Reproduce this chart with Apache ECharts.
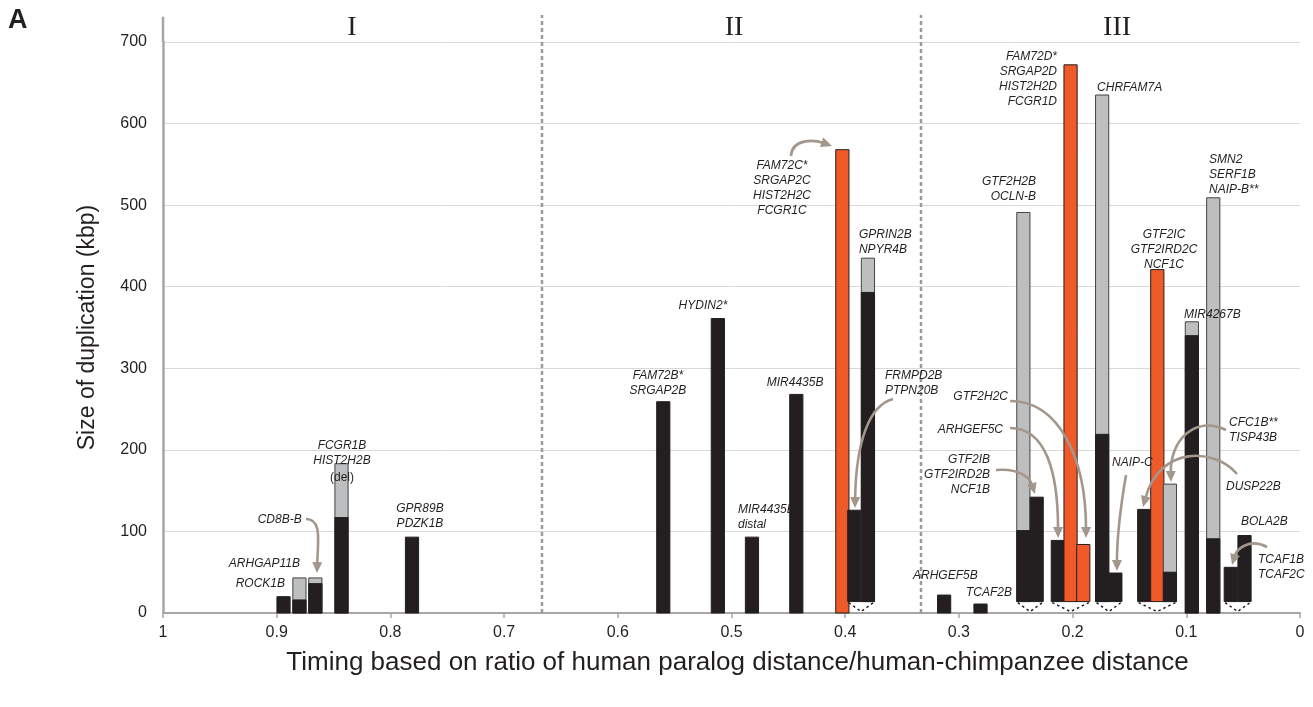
<!DOCTYPE html>
<html><head><meta charset="utf-8">
<script src="https://cdn.jsdelivr.net/npm/echarts@6/dist/echarts.min.js"></script>
<style>html,body{margin:0;padding:0;background:#fff}#chart{width:1313px;height:707px}</style>
</head><body><div id="chart"></div>
<script>
// ---- data ----
const genes = ['ROCK1B','ARHGAP11B','CD8B-B','FCGR1B/HIST2H2B','GPR89B/PDZK1B','FAM72B/SRGAP2B','HYDIN2','MIR4435B distal','MIR4435B','FAM72C/SRGAP2C/HIST2H2C/FCGR1C','FRMPD2B/PTPN20B','GPRIN2B/NPYR4B','ARHGEF5B','TCAF2B','GTF2H2B/OCLN-B','GTF2IB/GTF2IRD2B/NCF1B','ARHGEF5C','FAM72D/SRGAP2D/HIST2H2D/FCGR1D','GTF2H2C','CHRFAM7A','NAIP-C','DUSP22B','GTF2IC/GTF2IRD2C/NCF1C','CFC1B/TISP43B','MIR4267B','SMN2/SERF1B/NAIP-B','TCAF1B/TCAF2C','BOLA2B'];
const timing  = [0.894,0.880,0.866,0.843,0.781,0.560,0.512,0.482,0.443,0.4025,0.392,0.380,0.313,0.281,0.2433,0.2316,0.213,0.2018,0.1906,0.174,0.1624,0.137,0.1255,0.1144,0.0951,0.0763,0.0609,0.0488];
const topKbp  = [20,43,43,183,93,259,361,93,268,568,126,435,22,11,491,142,89,672,84,635,49,127,421,158,357,509,56,95];
const darkKbp = [20,16,36,117,93,259,361,93,268,568,126,393,22,11,101,142,89,672,84,219,49,127,421,50,340,91,56,95];
const baseKbp = [0,0,0,0,0,0,0,0,0,0,14,14,0,0,14,14,14,14,14,14,14,14,14,14,0,0,14,14];
const isOrange = [0,0,0,0,0,0,0,0,0,1,0,0,0,0,0,0,0,1,1,0,0,0,1,0,0,0,0,0];
const groups = [[10,11],[14,15],[16,17,18],[19,20],[21,22,23],[26,27]];
const xTicks = [0,0.1,0.2,0.3,0.4,0.5,0.6,0.7,0.8,0.9,1];
const yTicks = [0,100,200,300,400,500,600,700];
const regionNames = ['I','II','III'];
const regionCenters = [0.8338,0.4978,0.1609];
const regionBounds = [2/3,1/3];

const labelText = ['CD8B-B','ARHGAP11B','ROCK1B','FCGR1B\nHIST2H2B','(del)','GPR89B\nPDZK1B','FAM72B*\nSRGAP2B','HYDIN2*','MIR4435B\ndistal','MIR4435B','FAM72C*\nSRGAP2C\nHIST2H2C\nFCGR1C','GPRIN2B\nNPYR4B','FRMPD2B\nPTPN20B','GTF2H2B\nOCLN-B','FAM72D*\nSRGAP2D\nHIST2H2D\nFCGR1D','CHRFAM7A','GTF2H2C','ARHGEF5C','GTF2IB\nGTF2IRD2B\nNCF1B','ARHGEF5B','TCAF2B','GTF2IC\nGTF2IRD2C\nNCF1C','SMN2\nSERF1B\nNAIP-B**','MIR4267B','CFC1B**\nTISP43B','NAIP-C','DUSP22B','BOLA2B','TCAF1B\nTCAF2C'];
const labelT = [0.878,0.8795,0.8927,0.8426,0.8426,0.774,0.5647,0.5251,0.4943,0.4441,0.4556,0.3879,0.3650,0.2322,0.2137,0.1785,0.2568,0.2612,0.2726,0.3404,0.2938,0.1196,0.0800,0.1020,0.0624,0.1653,0.0651,0.0519,0.0369];
const labelV = [114,61,35.6,204.7,165.5,127.5,290.5,376.4,126.3,282,548,463.4,290.5,528.4,681.6,643.6,264.8,224.3,187.6,45.4,24.5,463.4,555.3,365.3,232.9,183.9,154.5,111.6,65];
const labelAlign = ['right','right','right','center','center','center','center','center','left','center','center','left','left','right','right','left','right','right','right','left','left','center','left','left','left','left','left','left','left'];

const arrows = [
  [[0.8742,115.2],[0.8602,115.2],[0.8637,89.5],[0.8646,49]],
  [[0.4477,560.2],[0.4468,582.3],[0.4266,579.9],[0.4116,572.5]],
  [[0.358,262.3],[0.3782,255],[0.3905,212.1],[0.3914,128.7]],
  [[0.255,259.9],[0.2111,259.9],[0.1882,187.6],[0.1882,91.9]],
  [[0.255,226.8],[0.2243,226.8],[0.2128,175.3],[0.2128,91.9]],
  [[0.2674,175.3],[0.2463,177.8],[0.2375,165.5],[0.2331,145.9]],
  [[0.153,169.2],[0.1583,126.3],[0.161,89.5],[0.161,51.5]],
  [[0.0651,224.3],[0.0923,242.7],[0.1143,212.1],[0.1135,160.6]],
  [[0.0554,170.4],[0.0748,202.3],[0.1231,206],[0.1381,130]],
  [[0.029,80.9],[0.044,91.9],[0.0554,79.7],[0.0598,58.8]]
];

// ---- style ----
const BLACK='#231f20', GRAY='#bcbec0', ORANGE='#f05a28', AXIS='#a6a6a6', ARROW='#a3968b';
const FONT='"Liberation Sans", Arial, sans-serif';
const BAR_W=13.2;

const chart = echarts.init(document.getElementById('chart'), null, {renderer:'canvas'});
const rows = timing.map((t,i)=>[t, topKbp[i], darkKbp[i], baseKbp[i], isOrange[i]?2:(darkKbp[i]<topKbp[i]?1:0)]);

function renderItem(params, api){
  const t=api.value(0), top=api.value(1), dark=api.value(2), base=api.value(3), k=api.value(4);
  const pB=api.coord([t,base]), pT=api.coord([t,top]), pD=api.coord([t,dark]);
  const x=pB[0]-BAR_W/2;
  const fill = k===2?ORANGE:(k===1?GRAY:BLACK);
  const ch=[{type:'rect', shape:{x:x, y:pT[1], width:BAR_W, height:pB[1]-pT[1]}, style:{fill:fill, stroke:k===1?'#444':BLACK, lineWidth:1}}];
  if(k===1) ch.push({type:'rect', shape:{x:x, y:pD[1], width:BAR_W, height:pB[1]-pD[1]}, style:{fill:BLACK, stroke:BLACK, lineWidth:1}});
  return {type:'group', children:ch};
}

chart.setOption({
  animation:false,
  backgroundColor:'#ffffff',
  grid:{left:163, right:13, top:42, bottom:94, containLabel:false},
  xAxis:{type:'value', inverse:true, min:xTicks[0], max:xTicks[xTicks.length-1], interval:0.1,
    axisLine:{show:true, onZero:false, lineStyle:{color:AXIS, width:2}},
    axisTick:{show:true, length:5, lineStyle:{color:AXIS, width:1.5}},
    axisLabel:{fontSize:16, color:BLACK, margin:12, fontFamily:FONT,
      formatter:function(v){const r=Math.round(v*10)/10; return (r===0||r===1)?String(r):r.toFixed(1);}},
    splitLine:{show:false}},
  yAxis:{type:'value', position:'left', min:yTicks[0], max:yTicks[yTicks.length-1], interval:100,
    axisLine:{show:true, onZero:false, lineStyle:{color:AXIS, width:2.5}},
    axisTick:{show:false},
    axisLabel:{fontSize:16, color:BLACK, margin:16, fontFamily:FONT},
    splitLine:{show:true, lineStyle:{color:'#d9d9d9', width:1}}},
  series:[{type:'custom', name:'duplications', renderItem:renderItem, data:rows, encode:{x:0,y:1}, clip:false, z:5}]
});

const P = (t,v)=>chart.convertToPixel({gridIndex:0},[t,v]);
const g=[];
// panel letter and titles
g.push({type:'text', x:8, y:7, z:20, style:{text:'A', font:'bold 27px '+FONT, fill:BLACK}});
const yMid = (P(1,0)[1]+P(1,700)[1])/2;
g.push({type:'text', x:88, y:yMid, rotation:Math.PI/2, z:20, style:{text:'Size of duplication (kbp)', font:'23px '+FONT, fill:BLACK, align:'center', verticalAlign:'middle'}});
g.push({type:'text', x:(P(1,0)[0]+P(0,0)[0])/2+6, y:663, z:20, style:{text:'Timing based on ratio of human paralog distance/human-chimpanzee distance', font:'26px '+FONT, fill:BLACK, align:'center', verticalAlign:'middle'}});
// y axis extension
{const a=P(1,700), b=P(1,731); g.push({type:'line', z:4, shape:{x1:a[0],y1:a[1],x2:b[0],y2:b[1]}, style:{stroke:AXIS, lineWidth:2.5}});}
// region dividers and names
regionBounds.forEach(b=>{const p0=P(b,0), p1=P(b,733); g.push({type:'line', z:3, shape:{x1:p0[0],y1:p0[1],x2:p1[0],y2:p1[1]}, style:{stroke:'#9a9a9a', lineWidth:2.5, lineDash:[4,3]}});});
regionNames.forEach((n,i)=>{const p=P(regionCenters[i],718); g.push({type:'text', x:p[0], y:p[1], z:20, style:{text:n, font:'28px "Liberation Serif", "Times New Roman", serif', fill:BLACK, align:'center', verticalAlign:'middle'}});});
// connectors
groups.forEach(gr=>{
  const a=P(timing[gr[0]], baseKbp[gr[0]]), b=P(timing[gr[gr.length-1]], baseKbp[gr[gr.length-1]]);
  const xl=a[0]-BAR_W/2+1, xr=b[0]+BAR_W/2-1, y=a[1]+1, m=(xl+xr)/2;
  g.push({type:'polyline', z:6, shape:{points:[[xl,y],[m,y+9],[xr,y]]}, style:{stroke:BLACK, lineWidth:1.5, lineDash:[2.5,3], fill:null}});
});
// labels
labelText.forEach((txt,i)=>{
  const p=P(labelT[i], labelV[i]);
  const italic = txt!=='(del)';
  g.push({type:'text', x:p[0], y:p[1]-7.5, z:20, style:{text:txt, font:(italic?'italic ':'')+'12px '+FONT, fill:BLACK, align:labelAlign[i], verticalAlign:'top', lineHeight:15}});
});
// arrows
arrows.forEach(a=>{
  const s=P(a[0][0],a[0][1]), c1=P(a[1][0],a[1][1]), c2=P(a[2][0],a[2][1]), e=P(a[3][0],a[3][1]);
  let dx=e[0]-c2[0], dy=e[1]-c2[1]; const L=Math.hypot(dx,dy)||1; dx/=L; dy/=L;
  const hl=11, hw=5;
  const bx=e[0]-dx*hl, by=e[1]-dy*hl;
  g.push({type:'bezierCurve', z:15, shape:{x1:s[0],y1:s[1],cpx1:c1[0],cpy1:c1[1],cpx2:c2[0],cpy2:c2[1],x2:bx+dx*2,y2:by+dy*2}, style:{stroke:ARROW, lineWidth:2.6, fill:null}});
  g.push({type:'polygon', z:15, shape:{points:[[e[0],e[1]],[bx-dy*hw,by+dx*hw],[bx+dy*hw,by-dx*hw]]}, style:{fill:ARROW}});
});
chart.setOption({graphic:g});
</script></body></html>
